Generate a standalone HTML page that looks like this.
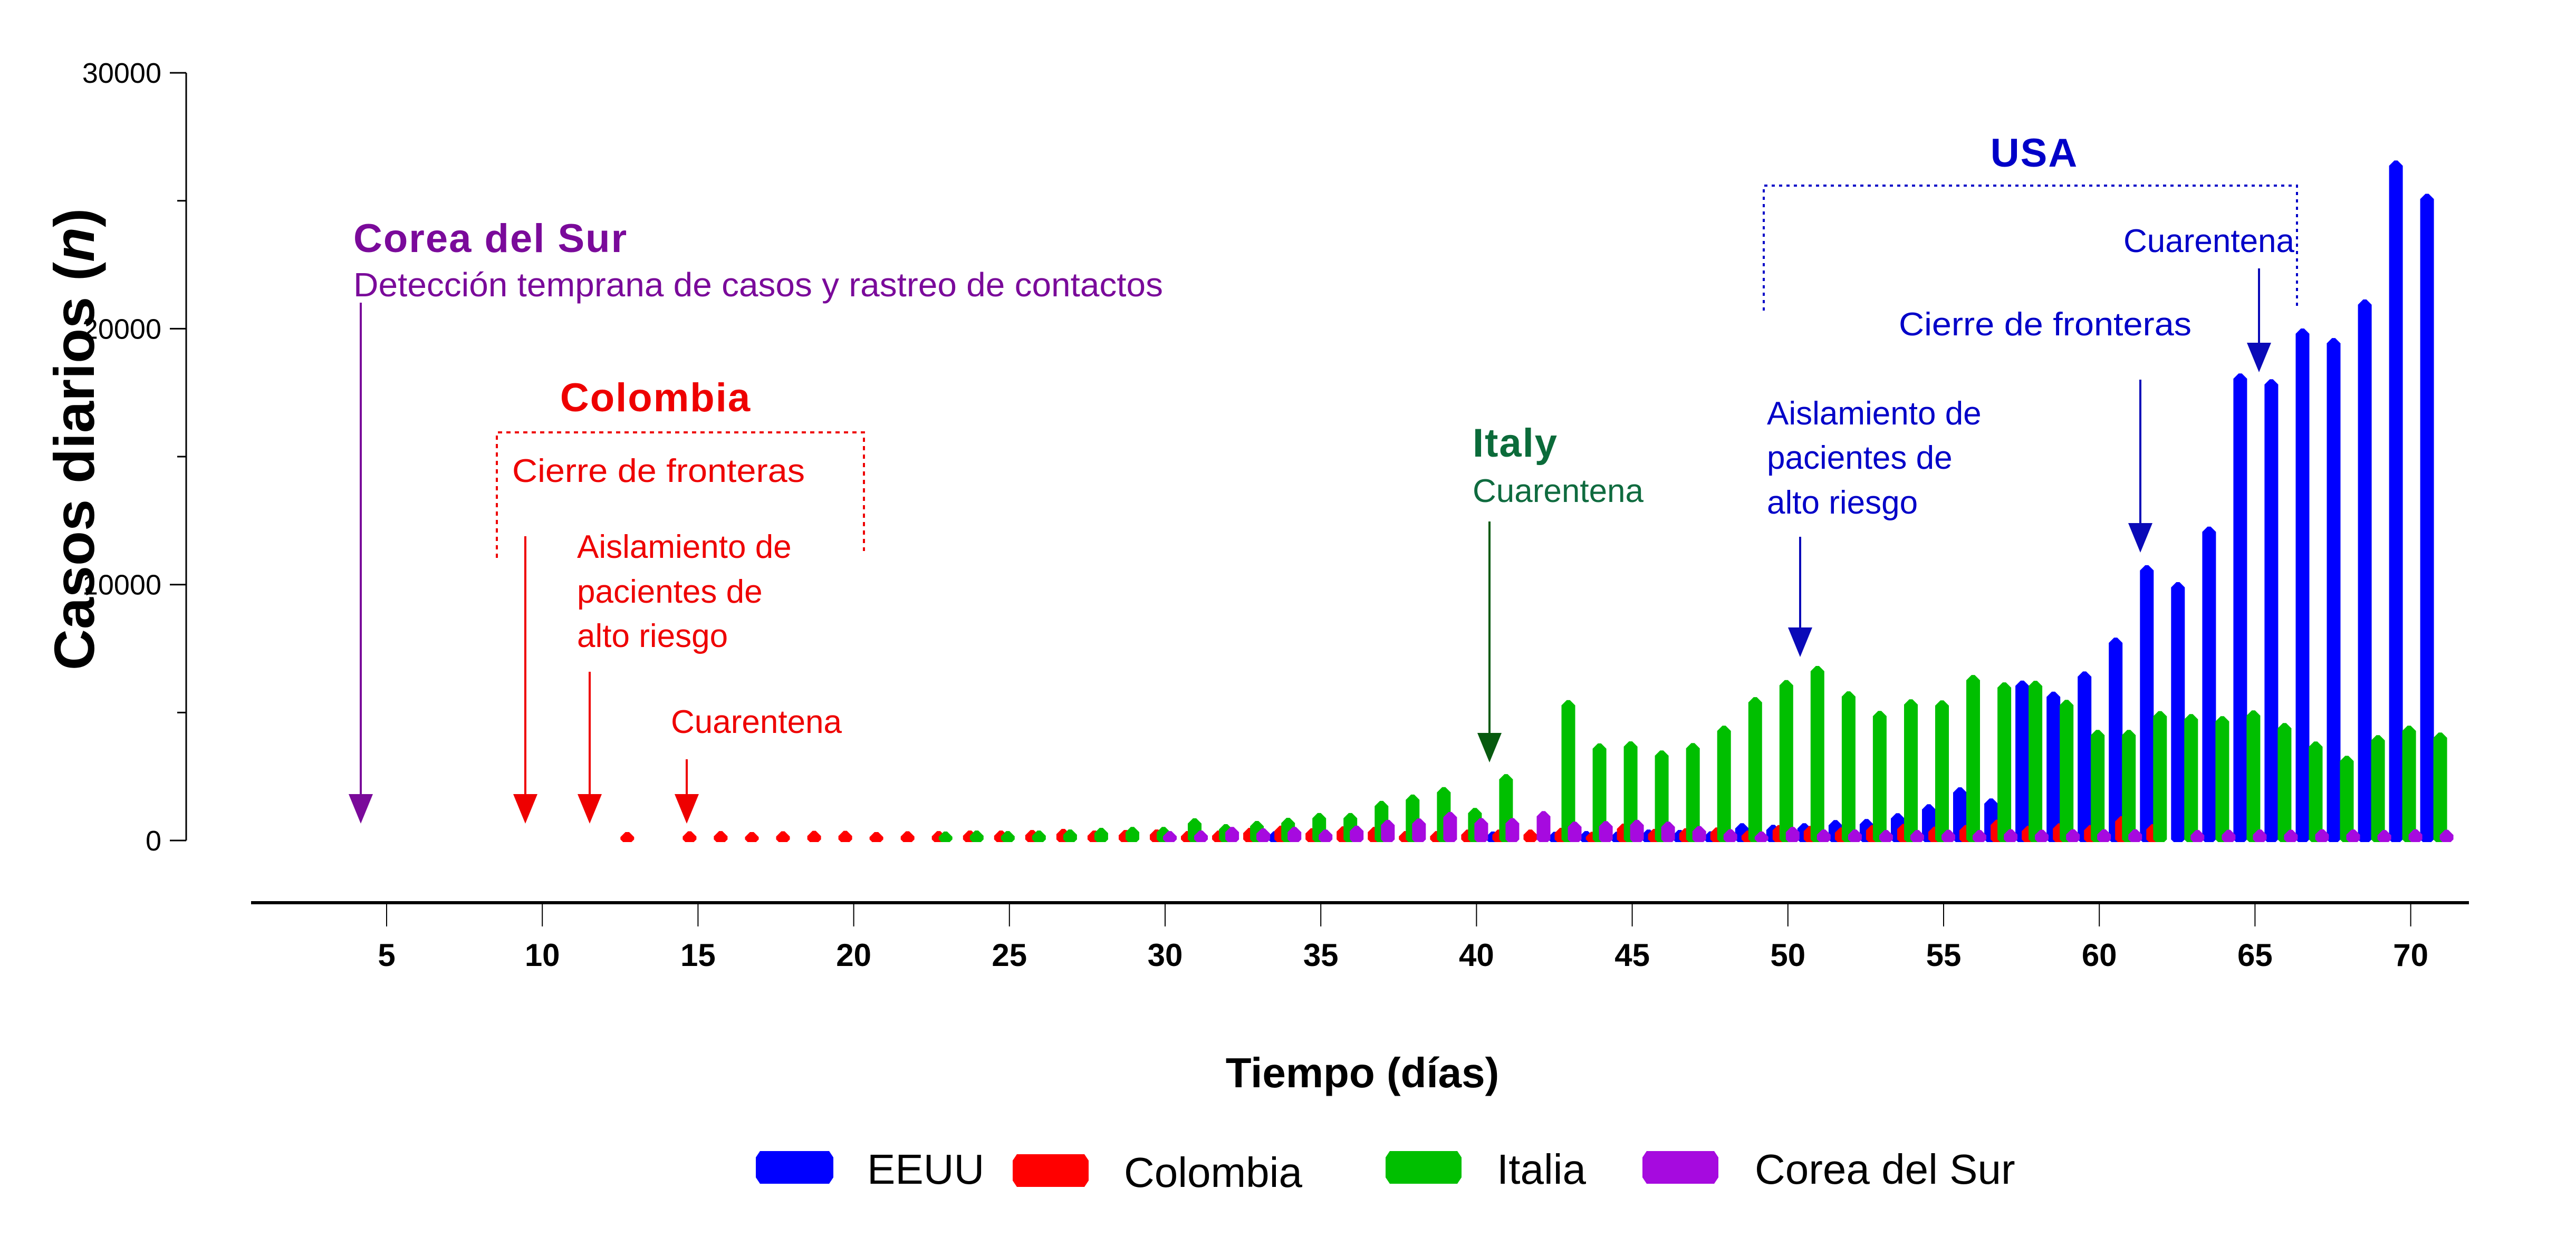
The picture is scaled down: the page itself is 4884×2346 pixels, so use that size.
<!DOCTYPE html>
<html><head><meta charset="utf-8">
<style>
html,body{margin:0;padding:0;background:#fff;}
svg{display:block;font-family:"Liberation Sans",Arial,sans-serif;}
</style></head>
<body>
<svg id="chart" width="4884" height="2346" viewBox="0 0 4884 2346" xmlns="http://www.w3.org/2000/svg">
  <rect width="4884" height="2346" fill="#fff"/>
  <g id="bars"></g>
  <g id="axes"></g>

  <text transform="translate(178,833) rotate(-90)" text-anchor="middle" font-size="108" font-weight="bold" fill="#000">Casos diarios (<tspan font-style="italic">n</tspan>)</text>
  <text x="2583" y="2062" text-anchor="middle" font-size="80" font-weight="bold" fill="#000">Tiempo (días)</text>

  <!-- Korea annotation -->
  <g fill="#7A0A9A">
    <text x="670" y="478" font-size="76" font-weight="bold" letter-spacing="2">Corea del Sur</text>
    <text x="670" y="562" font-size="64" textLength="1535" lengthAdjust="spacingAndGlyphs">Detección temprana de casos y rastreo de contactos</text>
    <line x1="684" y1="574" x2="684" y2="1510" stroke="#7A0A9A" stroke-width="4"/>
    <polygon points="661,1506 707,1506 684,1562"/>
  </g>

  <!-- Colombia annotation -->
  <g fill="#EE0000">
    <text x="1243" y="780" text-anchor="middle" font-size="76" font-weight="bold" letter-spacing="2">Colombia</text>
    <polyline points="942,1058 942,820 1638,820 1638,1045" fill="none" stroke="#EE0000" stroke-width="4" stroke-dasharray="8,8"/>
    <text x="971" y="914" font-size="62" textLength="555" lengthAdjust="spacingAndGlyphs">Cierre de fronteras</text>
    <line x1="996" y1="1017" x2="996" y2="1510" stroke="#EE0000" stroke-width="4"/>
    <polygon points="973,1506 1019,1506 996,1562"/>
    <text x="1094" y="1058" font-size="62">Aislamiento de</text>
    <text x="1094" y="1143" font-size="62">pacientes de</text>
    <text x="1094" y="1227" font-size="62">alto riesgo</text>
    <line x1="1118" y1="1274" x2="1118" y2="1510" stroke="#EE0000" stroke-width="4"/>
    <polygon points="1095,1506 1141,1506 1118,1562"/>
    <text x="1272" y="1390" font-size="62">Cuarentena</text>
    <line x1="1302" y1="1440" x2="1302" y2="1510" stroke="#EE0000" stroke-width="4"/>
    <polygon points="1279,1506 1325,1506 1302,1562"/>
  </g>

  <!-- Italy annotation -->
  <g>
    <text x="2792" y="866" font-size="76" font-weight="bold" fill="#0B6B3A" letter-spacing="2">Italy</text>
    <text x="2792" y="952" font-size="62" fill="#0F6B3F">Cuarentena</text>
    <line x1="2824" y1="989" x2="2824" y2="1394" stroke="#075A0F" stroke-width="4"/>
    <polygon points="2801,1390 2847,1390 2824,1446" fill="#075A0F"/>
  </g>

  <!-- USA annotation -->
  <g fill="#0000C8">
    <text x="3857" y="316" text-anchor="middle" font-size="76" font-weight="bold" letter-spacing="2">USA</text>
    <polyline points="3344,589 3344,352 4355,352 4355,581" fill="none" stroke="#0000C8" stroke-width="4" stroke-dasharray="6,8"/>
    <text x="4026" y="478" font-size="62">Cuarentena</text>
    <line x1="4283" y1="509" x2="4283" y2="654" stroke="#0A0AB8" stroke-width="4"/>
    <polygon points="4260,650 4306,650 4283,706" fill="#0A0AB8"/>
    <text x="3600" y="636" font-size="62" textLength="555" lengthAdjust="spacingAndGlyphs">Cierre de fronteras</text>
    <line x1="4058" y1="720" x2="4058" y2="996" stroke="#0A0AB8" stroke-width="4"/>
    <polygon points="4035,992 4081,992 4058,1048" fill="#0A0AB8"/>
    <text x="3350" y="805" font-size="62">Aislamiento de</text>
    <text x="3350" y="889" font-size="62">pacientes de</text>
    <text x="3350" y="974" font-size="62">alto riesgo</text>
    <line x1="3413" y1="1018" x2="3413" y2="1194" stroke="#0A0AB8" stroke-width="4"/>
    <polygon points="3390,1190 3436,1190 3413,1246" fill="#0A0AB8"/>
  </g>

  <!-- Legend -->
  <g font-size="80" fill="#000">
    <g>
      <polygon points="1441,2183 1572,2183 1580,2195 1580,2233 1572,2245 1441,2245 1433,2233 1433,2195" fill="#0000FF"/>
      <text x="1644" y="2245">EEUU</text>
    </g>
    <g>
      <polygon points="1928,2189 2056,2189 2064,2201 2064,2239 2056,2251 1928,2251 1920,2239 1920,2201" fill="#FF0000"/>
      <text x="2131" y="2251">Colombia</text>
    </g>
    <g>
      <polygon points="2635,2183 2763,2183 2771,2195 2771,2233 2763,2245 2635,2245 2627,2233 2627,2195" fill="#00BF00"/>
      <text x="2838" y="2245">Italia</text>
    </g>
    <g>
      <polygon points="3122,2183 3250,2183 3258,2195 3258,2233 3250,2245 3122,2245 3114,2233 3114,2195" fill="#A60ADF"/>
      <text x="3327" y="2245">Corea del Sur</text>
    </g>
  </g>
</svg>
<script>
// ---- data (days 13..71) ----
const days = [13,14,15,16,17,18,19,20,21,22,23,24,25,26,27,28,29,30,31,32,33,34,35,36,37,38,39,40,41,42,43,44,45,46,47,48,49,50,51,52,53,54,55,56,57,58,59,60,61,62,63,64,65,66,67,68,69,70,71];
const eeuu = [null,null,null,null,null,null,null,null,null,null,null,null,null,null,null,null,null,null,null,null,null,
  30,null,null,null,null,null,null,20,null,10,
  40,15,96,83,28,344,282,344,468,510,737,1088,1749,1315,5920,5486,6277,7600,10428,9767,11935,17923,17696,19678,19306,20814,26244,24943];
const colombia = [0,null,
  30,40,0,30,50,50,0,30,40,60,60,80,124,60,80,100,40,60,165,250,150,225,200,40,40,96,96,96,165,10,330,124,150,180,60,275,240,180,275,320,210,275,482,240,340,275,620,310,
  null,null,null,null,null,null,null,null,null];
const italia = [null,null,null,null,null,null,null,null,null,null,
  20,60,40,60,100,165,200,200,537,310,433,557,743,743,1218,1466,1755,943,2265,
  null,
  5156,3463,3545,3187,3476,4157,5272,5940,6491,5499,4735,5189,5148,6139,5850,5912,5168,3991,3991,4728,4611,4528,4755,4260,3537,2980,3785,4157,3888];
const corea = [null,null,null,null,null,null,null,null,null,null,null,null,null,null,null,null,null,
  40,60,200,145,200,96,248,475,530,785,545,545,820,405,427,475,405,235,110,20,200,100,100,80,80,90,80,110,90,110,110,110,
  null,
  80,90,100,90,110,100,80,110,90];
const yTicks = [0,10000,20000,30000];
const yTickLabels = ["0","10000","20000","30000"];
const yMinorTicks = [5000,15000,25000];
const xTicks = [5,10,15,20,25,30,35,40,45,50,55,60,65,70];

// ---- scales ----
const NS = "http://www.w3.org/2000/svg";
function xScale(d){ return 733 + (d - 5) * 59.04; }
function yScale(v){ return 1594 - v * 0.04853; }
const BASE = 1597, BW = 26;

function mk(tag, attrs, parent){
  const e = document.createElementNS(NS, tag);
  for (const k in attrs) e.setAttribute(k, attrs[k]);
  parent.appendChild(e);
  return e;
}
const barsG = document.getElementById('bars');
const axesG = document.getElementById('axes');

function barPoints(L, T, B){
  const h = B - T;
  const c = Math.min(10, h / 2);
  const c2 = Math.min(5, h / 2);
  return [[L,T+c],[L+c,T],[L+BW-c,T],[L+BW,T+c],[L+BW,B-c2],[L+BW-c2,B],[L+c2,B],[L,B-c2]]
    .map(p => p[0].toFixed(1) + ',' + p[1].toFixed(1)).join(' ');
}
const series = [
  {vals: eeuu, off: -41, color: '#0000FF', key: 'eeuu'},
  {vals: colombia, off: -29, color: '#FF0000', key: 'colombia'},
  {vals: italia, off: -16, color: '#00BF00', key: 'italia'},
  {vals: corea, off: -4, color: '#A60ADF', key: 'corea'}
];
series.forEach(s => {
  s.vals.forEach((v, i) => {
    if (v === null) return;
    const L = xScale(days[i]) + s.off;
    const T = yScale(v) - 16;
    const p = mk('polygon', {points: barPoints(L, T, BASE), fill: s.color}, barsG);
    
    
  });
});

// y axis
const yl = mk('line', {x1: 353, y1: yScale(30000), x2: 353, y2: yScale(0), stroke: '#000', 'stroke-width': 3}, axesG);


yTicks.forEach((t, i) => {
  const y = yScale(t);
  const tk = mk('line', {x1: 322, y1: y, x2: 353, y2: y, stroke: '#000', 'stroke-width': 3}, axesG);
  
  
  const tx = mk('text', {x: 306, y: y + 19, 'text-anchor': 'end', 'font-size': 54, fill: '#000'}, axesG);
  tx.textContent = yTickLabels[i];
  
  
});
yMinorTicks.forEach(t => {
  const y = yScale(t);
  const tk = mk('line', {x1: 336, y1: y, x2: 353, y2: y, stroke: '#000', 'stroke-width': 3}, axesG);
  
  
});

// x axis
const xl = mk('line', {x1: 476, y1: 1712, x2: 4681, y2: 1712, stroke: '#000', 'stroke-width': 6}, axesG);


xTicks.forEach(d => {
  const x = xScale(d);
  const tk = mk('line', {x1: x, y1: 1712, x2: x, y2: 1757, stroke: '#000', 'stroke-width': 2}, axesG);
  
  
  const tx = mk('text', {x: x, y: 1832, 'text-anchor': 'middle', 'font-size': 60, 'font-weight': 'bold', fill: '#000'}, axesG);
  tx.textContent = String(d);
  
  
});
</script>
</body></html>
